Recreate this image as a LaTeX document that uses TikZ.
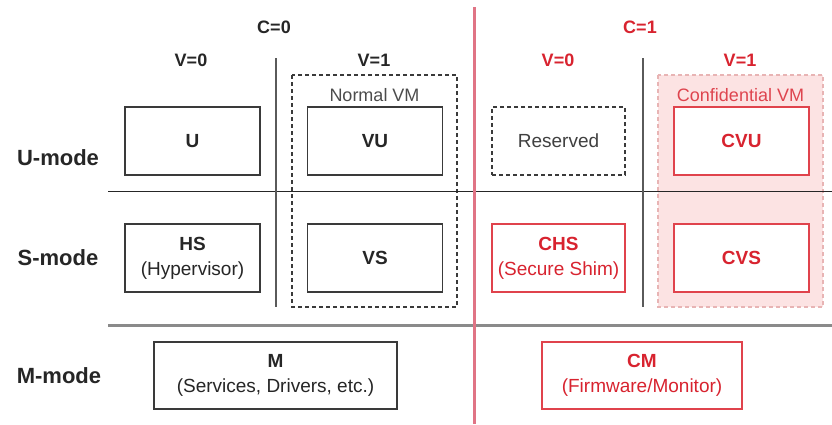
\documentclass[tikz,border=0pt]{standalone}
\usepackage{fontspec}
\setmainfont{Liberation Sans}
\definecolor{confred}{HTML}{D8232F}
\definecolor{boxred}{HTML}{E0434C}
\definecolor{divred}{HTML}{E07485}
\definecolor{conffill}{HTML}{FCE3E3}
\definecolor{confedge}{HTML}{E8B4B4}
\definecolor{boxgray}{HTML}{3A3A3A}
\definecolor{sepgray}{HTML}{5A5A5A}
\definecolor{modegray}{HTML}{8A8A8A}
\tikzset{
  px/.style={x=1pt,y=-1pt},
  rowlabel/.style={font=\fontsize{22}{26}\selectfont\bfseries, text=black!85},
  colhead/.style={font=\fontsize{18}{22}\selectfont\bfseries, text=black!85},
  redhead/.style={colhead, text=confred},
  modebox/.style={draw=boxgray, line width=1.3pt, fill=white, inner sep=0pt, outer sep=0pt,
    minimum width=135pt, minimum height=68pt, align=center,
    font=\fontsize{19}{25}\selectfont, text=black!85},
  redbox/.style={modebox, draw=boxred, text=confred},
  resbox/.style={modebox, draw=boxgray, dashed, dash pattern=on 4pt off 3pt, text=black!75},
  vmlabel/.style={font=\fontsize{18}{22}\selectfont, inner sep=0pt},
  colsep/.style={draw=sepgray, line width=2pt},
}
\begin{document}
\begin{tikzpicture}[px]
\useasboundingbox (0,0) rectangle (832,424);

% confidential VM region (shaded, behind the grid lines)
\path[fill=conffill, draw=confedge, line width=1.2pt, dash pattern=on 4pt off 3pt]
  (658,75) rectangle (823,307);
\node[vmlabel, text=confred!85] (cvmlabel) at (740.5,95) {Confidential VM};

% normal VM region
\draw[boxgray, line width=1.2pt, dash pattern=on 4pt off 3pt] (292,75) rectangle (457,307);
\node[vmlabel, text=black!70] (nvmlabel) at (374.5,95) {Normal VM};

% grid lines
\coordinate (usL) at (108,191.5);
\coordinate (usR) at (832,191.5);
\coordinate (smL) at (108,325);
\coordinate (smR) at (832,325);
\draw[black!85, line width=1.5pt] (usL) -- (usR);
\draw[modegray, line width=3pt] (smL) -- (smR);

\coordinate (v0t) at (275.5,58);
\coordinate (v0b) at (275.5,307);
\coordinate (v1t) at (642.5,58);
\coordinate (v1b) at (642.5,307);
\draw[colsep] (v0t) -- (v0b);
\draw[colsep] (v1t) -- (v1b);

\coordinate (ctop) at (474.5,7);
\coordinate (cbot) at (474.5,424);
\draw[divred, line width=2.5pt] (ctop) -- (cbot);

% headers
\node[colhead] (c0) at (274,27) {C=0};
\node[redhead] (c1) at (640,27) {C=1};
\node[colhead] (v00) at (191,60) {V=0};
\node[colhead] (v01) at (374,60) {V=1};
\node[redhead] (v10) at (558,60) {V=0};
\node[redhead] (v11) at (740,60) {V=1};

% row labels
\node[rowlabel] (um) at (58,158) {U-mode};
\node[rowlabel] (sm) at (58,258) {S-mode};
\node[rowlabel] (mm) at (59,376) {M-mode};

% U-mode
\node[modebox] (U)   at (192.5,141) {\bfseries U};
\node[modebox] (VU)  at (375,141) {\bfseries VU};
\node[resbox, minimum width=133pt] (RES) at (558.5,141) {Reserved};
\node[redbox] (CVU)  at (741.5,141) {\bfseries CVU};

% S-mode
\node[modebox] (HS)  at (192.5,258) {\bfseries HS\\(Hypervisor)};
\node[modebox] (VS)  at (375,258) {\bfseries VS};
\node[redbox, minimum width=133pt] (CHS) at (558.5,258) {\bfseries CHS\\(Secure Shim)};
\node[redbox] (CVS)  at (741.5,258) {\bfseries CVS};

% M-mode
\node[modebox, minimum width=243pt, minimum height=67pt] (M) at (275.5,375.5)
  {\bfseries M\\(Services, Drivers, etc.)};
\node[redbox, minimum width=200pt, minimum height=67pt] (CM) at (642,375.5)
  {\bfseries CM\\(Firmware/Monitor)};
\end{tikzpicture}
\end{document}
